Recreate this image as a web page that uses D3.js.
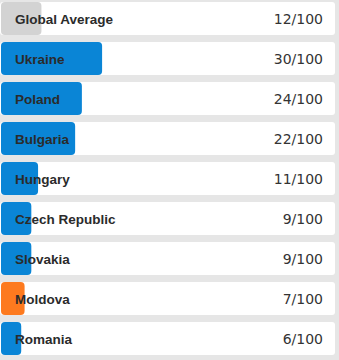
<!DOCTYPE html>
<html>
<head>
<meta charset="utf-8">
<script src="https://cdn.jsdelivr.net/npm/d3@7"></script>
<style>
  html, body { margin: 0; padding: 0; background: #e6e6e6; }
  svg { display: block; }
</style>
</head>
<body>
<svg id="chart" width="339" height="360"></svg>
<script>
// Country scores out of 100
const countries = ["Global Average", "Ukraine", "Poland", "Bulgaria", "Hungary", "Czech Republic", "Slovakia", "Moldova", "Romania"];
const scores = [12, 30, 24, 22, 11, 9, 9, 7, 6];
const maxScore = 100;
const barKinds = ["average", "country", "country", "country", "country", "country", "country", "highlight", "country"];

const svg = d3.select("#chart");

const y = d3.scaleBand()
  .domain(countries)
  .range([2, 355])
  .paddingInner(0.175)
  .paddingOuter(0);

const x = d3.scaleLinear().domain([0, maxScore]).range([0, 337]);

const color = d3.scaleOrdinal()
  .domain(["average", "country", "highlight"])
  .range(["#d3d3d3", "#0a85d6", "#fd7a1f"]);

const rows = svg.selectAll("g.row")
  .data(countries.map((c, i) => ({ name: c, value: scores[i], kind: barKinds[i] })))
  .join("g")
  .attr("class", "row")
  .attr("transform", d => `translate(0,${y(d.name)})`);

// white row card
rows.append("rect")
  .attr("x", 0)
  .attr("width", 335)
  .attr("height", y.bandwidth())
  .attr("rx", 3)
  .attr("fill", "#ffffff");

// score bar
rows.append("rect")
  .attr("x", 1)
  .attr("width", d => x(d.value))
  .attr("height", y.bandwidth())
  .attr("rx", 4)
  .attr("fill", d => color(d.kind));

rows.append("text")
  .attr("x", 15)
  .attr("y", y.bandwidth() / 2 + 5)
  .attr("font-family", "'Liberation Sans', Arial, sans-serif")
  .attr("font-weight", "bold")
  .attr("font-size", 13.5)
  .attr("fill", "#2b2b2b")
  .text(d => d.name);

rows.append("text")
  .attr("x", 323)
  .attr("y", y.bandwidth() / 2 + 5)
  .attr("text-anchor", "end")
  .attr("font-family", "'DejaVu Sans', Verdana, sans-serif")
  .attr("font-size", 14)
  .attr("fill", "#333333")
  .text(d => `${d.value}/${maxScore}`);
</script>
</body>
</html>
